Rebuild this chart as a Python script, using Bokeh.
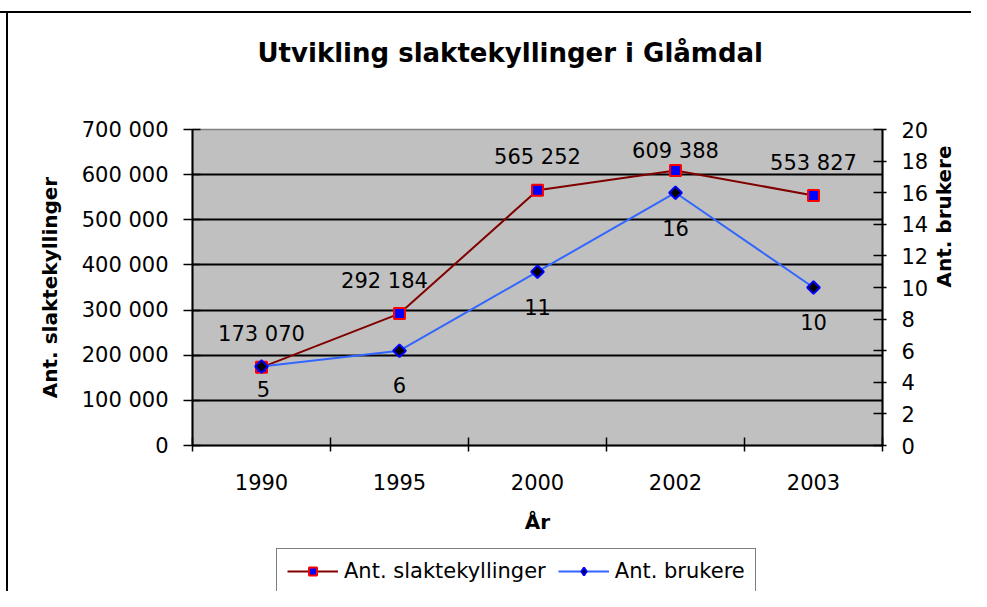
import math
from bokeh.plotting import figure
from bokeh.layouts import column
from bokeh.models import (Range1d, LinearAxis, FixedTicker, ColumnDataSource,
                          Legend, LegendItem, Title)
from bokeh.core.properties import value
from bokeh.embed import file_html
from bokeh.resources import INLINE

# ---- data ----
years = ["1990", "1995", "2000", "2002", "2003"]
slaktekyllinger = [173070, 292184, 565252, 609388, 553827]
brukere = [5, 6, 11, 16, 10]
slakte_labels = ["173 070", "292 184", "565 252", "609 388", "553 827"]
brukere_labels = ["5", "6", "11", "16", "10"]
left_ticks = [0, 100000, 200000, 300000, 400000, 500000, 600000, 700000]
left_tick_labels = ["0", "100 000", "200 000", "300 000", "400 000",
                    "500 000", "600 000", "700 000"]
right_ticks = [0, 2, 4, 6, 8, 10, 12, 14, 16, 18, 20]

title_text = "Utvikling slaktekyllinger i Glåmdal"
left_label = "Ant. slaktekyllinger"
right_label = "Ant. brukere"
x_label = "År"

# ---- label placement (styles, pixels) ----
slakte_dx = [0, -15, 0, 0, 0]
slakte_dy = [-33, -33, -33, -19, -32]
brukere_dx = [2, 0, 0, 0, 0]
brukere_dy = [22, 34, 35, 35, 34]

FONT = "DejaVu Sans"
n = len(years)
xs = list(range(1, n + 1))
boundaries = [i + 0.5 for i in range(0, n + 1)]

W = 971
H_MAIN = 540
H_LEG = 51

p = figure(width=W, height=H_MAIN,
           x_range=Range1d(0.5, n + 0.5), y_range=Range1d(0, 700000),
           output_backend="svg", toolbar_location=None,
           min_border_left=192, min_border_right=88,
           min_border_top=129, min_border_bottom=95,
           background_fill_color="#C0C0C0", border_fill_color=None,
           outline_line_color="#808080", outline_line_width=1.5)

# spacer between title and frame
p.add_layout(Title(text=" ", text_font=FONT, text_font_size="10px", standoff=11), "above")

# title
p.title.text = title_text
p.title.text_font = FONT
p.title.text_font_style = "bold"
p.title.text_font_size = "26px"
p.title.text_color = "black"
p.title.align = "left"
p.title.vertical_align = "top"
p.title.offset = 65
p.title.standoff = 72

# x axis
xa = p.xaxis[0]
xa.ticker = FixedTicker(ticks=xs, minor_ticks=boundaries)
xa.major_label_overrides = {x: y for x, y in zip(xs, years)}
xa.major_tick_in = 0
xa.major_tick_out = 0
xa.minor_tick_in = 8
xa.minor_tick_out = 6
xa.minor_tick_line_color = "black"
xa.minor_tick_line_width = 1.5
xa.axis_line_color = "black"
xa.axis_line_width = 2
xa.major_label_standoff = 22
xa.major_label_text_font = FONT
xa.major_label_text_font_size = "21px"
xa.major_label_text_color = "black"
xa.axis_label = x_label
xa.axis_label_text_font = FONT
xa.axis_label_text_font_style = "bold"
xa.axis_label_text_font_size = "20px"
xa.axis_label_text_color = "black"
xa.axis_label_standoff = 17

# left axis
ya = p.yaxis[0]
ya.ticker = FixedTicker(ticks=left_ticks, minor_ticks=[])
ya.major_label_overrides = {t: s for t, s in zip(left_ticks, left_tick_labels)}
ya.major_tick_in = 8
ya.major_tick_out = 9
ya.major_tick_line_color = "black"
ya.major_tick_line_width = 1.5
ya.minor_tick_line_color = None
ya.axis_line_color = "black"
ya.axis_line_width = 2
ya.major_label_standoff = 15
ya.major_label_text_font = FONT
ya.major_label_text_font_size = "21px"
ya.major_label_text_color = "black"
ya.axis_label = left_label
ya.axis_label_text_font = FONT
ya.axis_label_text_font_style = "bold"
ya.axis_label_text_font_size = "20px"
ya.axis_label_text_color = "black"
ya.axis_label_standoff = 17

# grid
p.xgrid.visible = False
p.ygrid.ticker = FixedTicker(ticks=left_ticks[1:-1])
p.ygrid.grid_line_color = "black"
p.ygrid.grid_line_width = 2

# right axis
p.extra_y_ranges = {"b": Range1d(0, 20)}
ra = LinearAxis(y_range_name="b", ticker=FixedTicker(ticks=right_ticks, minor_ticks=[]))
ra.major_tick_in = 9
ra.major_tick_out = 4
ra.major_tick_line_color = "black"
ra.major_tick_line_width = 1.5
ra.minor_tick_line_color = None
ra.axis_line_color = "black"
ra.axis_line_width = 2
ra.major_label_standoff = 15
ra.major_label_text_font = FONT
ra.major_label_text_font_size = "21px"
ra.major_label_text_color = "black"
ra.axis_label = right_label
ra.axis_label_text_font = FONT
ra.axis_label_text_font_style = "bold"
ra.axis_label_text_font_size = "20px"
ra.axis_label_text_color = "black"
ra.axis_label_standoff = 13
ra.axis_label_orientation = math.pi / 2
p.add_layout(ra, "right")

# series
src1 = ColumnDataSource(dict(x=xs, y=slaktekyllinger, t=slakte_labels,
                             dx=slakte_dx, dy=slakte_dy))
src2 = ColumnDataSource(dict(x=xs, y=brukere, t=brukere_labels,
                             dx=brukere_dx, dy=brukere_dy))

LINE1 = dict(line_color="#800000", line_width=2)
MARK1 = dict(marker="square", size=11, fill_color="#0000FF",
             line_color="#FF0000", line_width=2)
LINE2 = dict(line_color="#3366FF", line_width=2)
MARK2 = dict(marker="square", angle=math.pi / 4, size=9, fill_color="black",
             line_color="#0000FF", line_width=2)

p.line("x", "y", source=src1, **LINE1)
p.scatter("x", "y", source=src1, **MARK1)
p.line("x", "y", source=src2, y_range_name="b", **LINE2)
p.scatter("x", "y", source=src2, y_range_name="b", **MARK2)

p.text("x", "y", text="t", x_offset="dx", y_offset="dy", source=src1,
       text_font=value(FONT), text_font_size="21px", text_align="center",
       text_baseline="middle", text_color="black")
p.text("x", "y", text="t", x_offset="dx", y_offset="dy", source=src2,
       y_range_name="b",
       text_font=value(FONT), text_font_size="21px", text_align="center",
       text_baseline="middle", text_color="black")

# ---- legend strip (same series styling, legend only) ----
q = figure(width=W, height=H_LEG, x_range=Range1d(0, 1), y_range=Range1d(0, 1),
           output_backend="svg", toolbar_location=None,
           x_axis_location=None, y_axis_location=None,
           min_border=0, min_border_left=192, min_border_right=88,
           min_border_top=0, min_border_bottom=0,
           background_fill_color=None, border_fill_color=None,
           outline_line_color=None)
q.grid.visible = False
# single off-range point so the legend can draw each series' glyph
offrange = ColumnDataSource(dict(x=[-10], y=[-10]))
ql1 = q.line("x", "y", source=offrange, **LINE1)
qs1 = q.scatter("x", "y", source=offrange, **MARK1)
ql2 = q.line("x", "y", source=offrange, **LINE2)
qs2 = q.scatter("x", "y", source=offrange, marker="diamond", size=18,
                fill_color="black", line_color="#0000FF", line_width=2)

legend = Legend(items=[LegendItem(label=left_label, renderers=[ql1, qs1]),
                       LegendItem(label=right_label, renderers=[ql2, qs2])],
                orientation="horizontal", location=(84, -3),
                glyph_width=51, glyph_height=20, label_standoff=6, spacing=12,
                padding=10, margin=0, border_line_color="black",
                border_line_width=1.5, background_fill_color="white",
                background_fill_alpha=1.0, label_text_font=FONT,
                label_text_font_size="21px", label_text_color="black")
q.add_layout(legend, "center")

layout = column(p, q, spacing=0)
layout.styles = {
    "background-image": "linear-gradient(#000,#000), linear-gradient(#000,#000)",
    "background-size": "100% 2px, 2px 100%",
    "background-position": "0 11px, 6px 11px",
    "background-repeat": "no-repeat",
    "background-color": "#ffffff",
}

open("out.html", "w").write(file_html(layout, INLINE))
